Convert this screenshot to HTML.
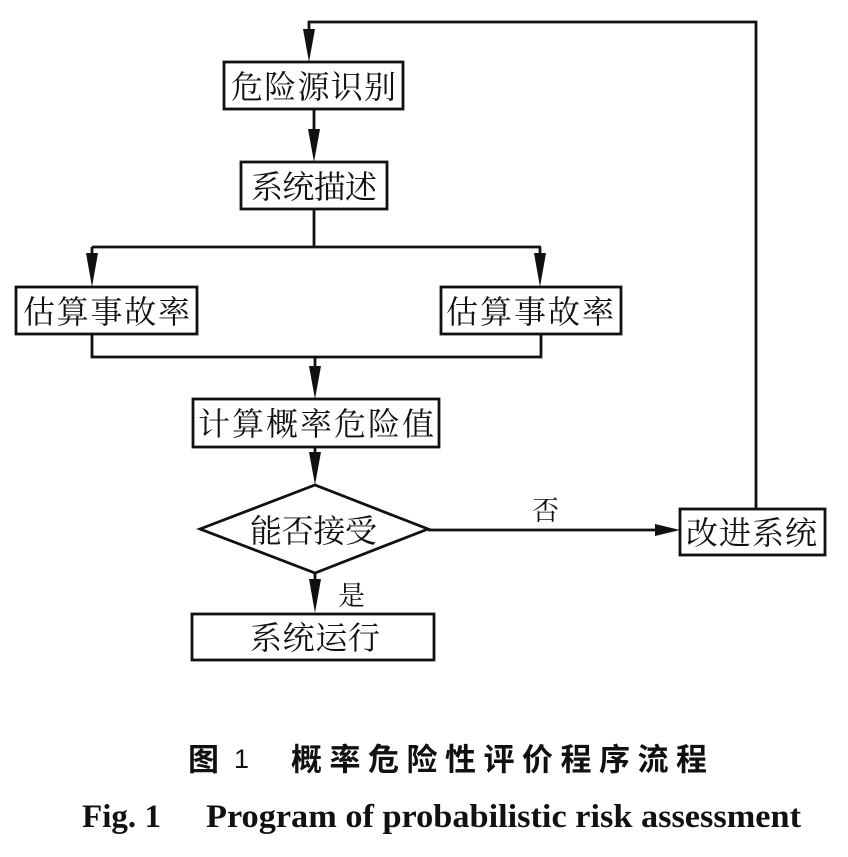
<!DOCTYPE html>
<html>
<head>
<meta charset="utf-8">
<style>
  html, body { margin: 0; padding: 0; background: #ffffff; }
  svg { display: block; }
  .cn { font-family: "Liberation Serif", "Noto Serif CJK SC", "Noto Sans CJK SC", serif; font-size: 32px; fill: #111; }
  .lab { font-family: "Liberation Serif", "Noto Serif CJK SC", "Noto Sans CJK SC", serif; font-size: 27px; fill: #111; }
  .cap1 { font-family: "Liberation Sans", "Noto Sans CJK SC", sans-serif; font-weight: 700; font-size: 31px; fill: #111; }
  .cap2 { font-family: "Liberation Serif", serif; font-weight: 700; font-size: 33px; fill: #111; }
</style>
</head>
<body>
<svg width="848" height="857" viewBox="0 0 848 857" xmlns="http://www.w3.org/2000/svg">
  <rect x="0" y="0" width="848" height="857" fill="#ffffff"/>
  <g stroke="#111" stroke-width="2.8" fill="none" stroke-linejoin="miter">
    <polyline points="756,509 756,22 309,22 309,40"/>
    <line x1="314" y1="109" x2="314" y2="140"/>
    <line x1="314" y1="209" x2="314" y2="247"/>
    <line x1="92" y1="247" x2="541" y2="247"/>
    <line x1="92" y1="247" x2="92" y2="262"/>
    <line x1="540" y1="247" x2="540" y2="262"/>
    <polyline points="92,334 92,357 541,357 541,334"/>
    <line x1="315" y1="357" x2="315" y2="375"/>
    <line x1="315" y1="447" x2="315" y2="460"/>
    <line x1="428" y1="530" x2="660" y2="530"/>
    <line x1="315" y1="573" x2="315" y2="585"/>

    <rect x="224" y="62" width="179" height="47"/>
    <rect x="241" y="162" width="146" height="47"/>
    <rect x="16" y="287" width="181" height="47"/>
    <rect x="441" y="287" width="180" height="47"/>
    <rect x="193" y="399" width="246" height="48"/>
    <polygon points="200,529 315,485 428,529 315,573"/>
    <rect x="680" y="509" width="145" height="46"/>
    <rect x="192" y="614" width="242" height="46"/>
  </g>

  <g fill="#111" stroke="none">
    <polygon points="303,29 315,29 309,62"/>
    <polygon points="308,129 320,129 314,162"/>
    <polygon points="86,253 98,253 92,287"/>
    <polygon points="534,253 546,253 540,287"/>
    <polygon points="309,366 321,366 315,399"/>
    <polygon points="309,452 321,452 315,485"/>
    <polygon points="655,524 655,536 680,530"/>
    <polygon points="309,579 321,579 315,613"/>
  </g>

  <g class="cn" dominant-baseline="central">
    <text x="231" y="87" textLength="165" lengthAdjust="spacing">危险源识别</text>
    <text x="251" y="187" textLength="126" lengthAdjust="spacing">系统描述</text>
    <text x="23" y="312" textLength="167" lengthAdjust="spacing">估算事故率</text>
    <text x="446" y="312" textLength="168" lengthAdjust="spacing">估算事故率</text>
    <text x="198" y="424" textLength="236" lengthAdjust="spacing">计算概率危险值</text>
    <text x="250" y="531" textLength="127" lengthAdjust="spacing">能否接受</text>
    <text x="686" y="533" textLength="131" lengthAdjust="spacing">改进系统</text>
    <text x="250" y="638" textLength="130" lengthAdjust="spacing">系统运行</text>
  </g>

  <g class="lab" dominant-baseline="central">
    <text x="532" y="511">否</text>
    <text x="338" y="596">是</text>
  </g>

  <g class="cap1" dominant-baseline="central">
    <text x="188" y="760">图</text>
    <text x="234" y="759" font-size="27" font-weight="400">1</text>
    <text x="291" y="760" textLength="416" lengthAdjust="spacing">概率危险性评价程序流程</text>
  </g>
  <g class="cap2">
    <text x="82" y="827" textLength="79" lengthAdjust="spacingAndGlyphs">Fig. 1</text>
    <text x="206" y="827" textLength="595" lengthAdjust="spacingAndGlyphs">Program of probabilistic risk assessment</text>
  </g>
</svg>
</body>
</html>
